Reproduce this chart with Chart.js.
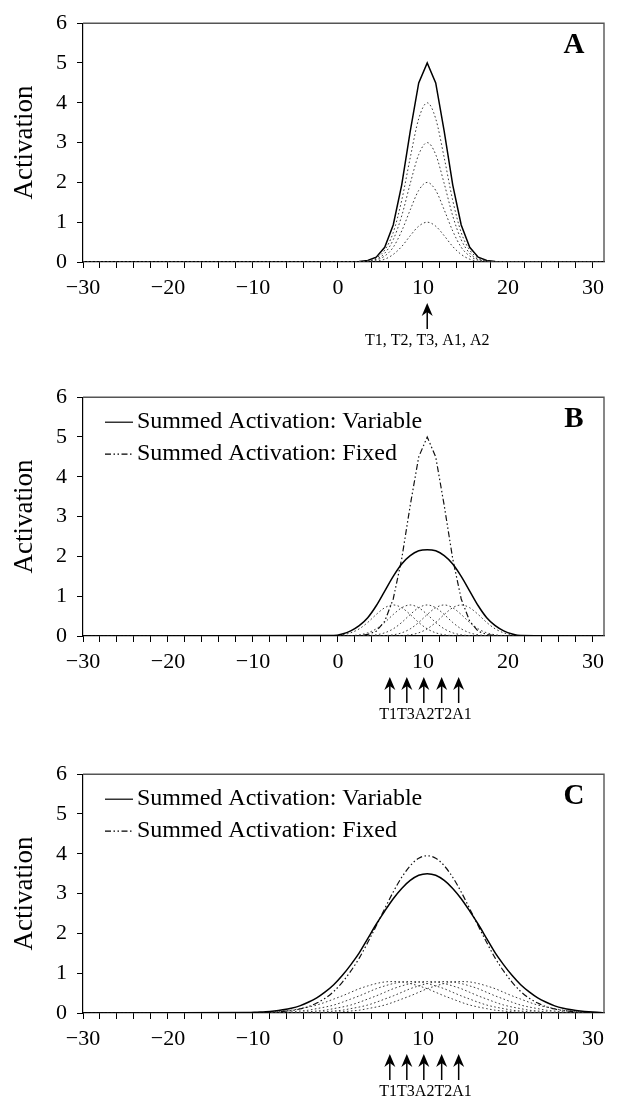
<!DOCTYPE html>
<html>
<head>
<meta charset="utf-8">
<script src="https://cdn.jsdelivr.net/npm/chart.js@4.4.0/dist/chart.umd.min.js"></script>
<style>
  body { margin: 0; background: #fff; }
  .panel { position: absolute; left: 0; width: 617px; }
  canvas { display: block; }
</style>
</head>
<body>
<div class="panel" style="top:0"><canvas id="chartA" width="617" height="374"></canvas></div>
<div class="panel" style="top:374px"><canvas id="chartB" width="617" height="377"></canvas></div>
<div class="panel" style="top:751px"><canvas id="chartC" width="617" height="347"></canvas></div>
<script>
const FONT = "'Liberation Serif', 'Times New Roman', serif";

// axis ticks
const xTickLabels = [-30, -20, -10, 0, 10, 20, 30];
const yTickLabels = [0, 1, 2, 3, 4, 5, 6];

// Panel A: five cumulative layers, all centred at 10.5
const xA = [-30, 2.5, 3.5, 4.5, 5.5, 6.5, 7.5, 8.5, 9.5, 10.5, 11.5, 12.5, 13.5, 14.5, 15.5, 16.5, 17.5, 18.5, 31];
const aSum    = [0, 0.01, 0.04, 0.12, 0.37, 0.93, 1.94, 3.28, 4.5, 5.0, 4.5, 3.28, 1.94, 0.93, 0.37, 0.12, 0.04, 0.01, 0];
const aLayer4 = [0, 0.01, 0.03, 0.10, 0.30, 0.74, 1.55, 2.62, 3.6, 4.0, 3.6, 2.62, 1.55, 0.74, 0.30, 0.10, 0.03, 0.01, 0];
const aLayer3 = [0, 0.01, 0.02, 0.07, 0.22, 0.56, 1.16, 1.97, 2.7, 3.0, 2.7, 1.97, 1.16, 0.56, 0.22, 0.07, 0.02, 0.01, 0];
const aLayer2 = [0, 0, 0.02, 0.05, 0.15, 0.37, 0.78, 1.31, 1.8, 2.0, 1.8, 1.31, 0.78, 0.37, 0.15, 0.05, 0.02, 0, 0];
const aLayer1 = [0, 0, 0.01, 0.02, 0.07, 0.19, 0.39, 0.66, 0.9, 1.0, 0.9, 0.66, 0.39, 0.19, 0.07, 0.02, 0.01, 0, 0];
const arrowsA = [10.5];

// Panel B
const xB = [-30, -0.5, 0.5, 1.5, 2.5, 3.5, 4.5, 5.5, 6.5, 7.5, 8.5, 9.5, 10.5, 11.5, 12.5, 13.5, 14.5, 15.5, 16.5, 17.5, 18.5, 19.5, 20.5, 21.5, 31];
const bVariable = [0, 0.01, 0.05, 0.13, 0.26, 0.46, 0.76, 1.13, 1.50, 1.81, 2.02, 2.14, 2.17, 2.14, 2.02, 1.81, 1.50, 1.13, 0.76, 0.46, 0.26, 0.13, 0.05, 0.01, 0];
const bFixed    = [0, 0, 0, 0, 0.01, 0.04, 0.12, 0.37, 0.93, 1.94, 3.28, 4.5, 5.0, 4.5, 3.28, 1.94, 0.93, 0.37, 0.12, 0.04, 0.01, 0, 0, 0, 0];
const bT1 = [0, 0.01, 0.03, 0.08, 0.18, 0.34, 0.54, 0.71, 0.78, 0.71, 0.54, 0.34, 0.18, 0.08, 0.03, 0.01, 0, 0, 0, 0, 0, 0, 0, 0, 0];
const bT3 = [0, 0, 0, 0.01, 0.03, 0.08, 0.18, 0.34, 0.54, 0.71, 0.78, 0.71, 0.54, 0.34, 0.18, 0.08, 0.03, 0.01, 0, 0, 0, 0, 0, 0, 0];
const bA2 = [0, 0, 0, 0, 0, 0.01, 0.03, 0.08, 0.18, 0.34, 0.54, 0.71, 0.78, 0.71, 0.54, 0.34, 0.18, 0.08, 0.03, 0.01, 0, 0, 0, 0, 0];
const bT2 = [0, 0, 0, 0, 0, 0, 0, 0.01, 0.03, 0.08, 0.18, 0.34, 0.54, 0.71, 0.78, 0.71, 0.54, 0.34, 0.18, 0.08, 0.03, 0.01, 0, 0, 0];
const bA1 = [0, 0, 0, 0, 0, 0, 0, 0, 0, 0.01, 0.03, 0.08, 0.18, 0.34, 0.54, 0.71, 0.78, 0.71, 0.54, 0.34, 0.18, 0.08, 0.03, 0.01, 0];
const arrowsBC = [6.1, 8.1, 10.1, 12.2, 14.2];

// Panel C
const xC = [-30, -10.5, -9.5, -8.5, -7.5, -6.5, -5.5, -4.5, -3.5, -2.5, -1.5, -0.5, 0.5, 1.5, 2.5, 3.5, 4.5, 5.5, 6.5, 7.5, 8.5, 9.5,
  10.5, 11.5, 12.5, 13.5, 14.5, 15.5, 16.5, 17.5, 18.5, 19.5, 20.5, 21.5, 22.5, 23.5, 24.5, 25.5, 26.5, 27.5, 28.5, 29.5, 30.5, 31];
const cVariable = [0, 0.01, 0.02, 0.03, 0.05, 0.08, 0.12, 0.18, 0.27, 0.38, 0.53, 0.71, 0.94, 1.21, 1.51, 1.87, 2.23, 2.56, 2.87, 3.13, 3.33, 3.46,
  3.50, 3.46, 3.33, 3.13, 2.87, 2.56, 2.23, 1.87, 1.51, 1.21, 0.94, 0.71, 0.53, 0.38, 0.27, 0.18, 0.12, 0.08, 0.05, 0.03, 0.02, 0.01];
const cFixed = [0, 0, 0.01, 0.01, 0.02, 0.04, 0.06, 0.10, 0.16, 0.25, 0.37, 0.54, 0.77, 1.05, 1.38, 1.77, 2.19, 2.62, 3.04, 3.41, 3.70, 3.89,
  3.95, 3.89, 3.70, 3.41, 3.04, 2.62, 2.19, 1.77, 1.38, 1.05, 0.77, 0.54, 0.37, 0.25, 0.16, 0.10, 0.06, 0.04, 0.02, 0.01, 0.01, 0];
const cT1 = [0, 0.01, 0.01, 0.02, 0.03, 0.05, 0.07, 0.11, 0.15, 0.20, 0.27, 0.35, 0.43, 0.52, 0.61, 0.68, 0.74, 0.78, 0.79,
  0.78, 0.74, 0.68, 0.61, 0.52, 0.43, 0.35, 0.27, 0.20, 0.15, 0.11, 0.07, 0.05, 0.03, 0.02, 0.01, 0.01, 0, 0, 0, 0, 0, 0, 0, 0];
const cT3 = [0, 0, 0, 0.01, 0.01, 0.02, 0.03, 0.05, 0.07, 0.11, 0.15, 0.20, 0.27, 0.35, 0.43, 0.52, 0.61, 0.68, 0.74, 0.78, 0.79,
  0.78, 0.74, 0.68, 0.61, 0.52, 0.43, 0.35, 0.27, 0.20, 0.15, 0.11, 0.07, 0.05, 0.03, 0.02, 0.01, 0.01, 0, 0, 0, 0, 0, 0];
const cA2 = [0, 0, 0, 0, 0, 0.01, 0.01, 0.02, 0.03, 0.05, 0.07, 0.11, 0.15, 0.20, 0.27, 0.35, 0.43, 0.52, 0.61, 0.68, 0.74, 0.78, 0.79,
  0.78, 0.74, 0.68, 0.61, 0.52, 0.43, 0.35, 0.27, 0.20, 0.15, 0.11, 0.07, 0.05, 0.03, 0.02, 0.01, 0.01, 0, 0, 0, 0];
const cT2 = [0, 0, 0, 0, 0, 0, 0, 0.01, 0.01, 0.02, 0.03, 0.05, 0.07, 0.11, 0.15, 0.20, 0.27, 0.35, 0.43, 0.52, 0.61, 0.68, 0.74, 0.78, 0.79,
  0.78, 0.74, 0.68, 0.61, 0.52, 0.43, 0.35, 0.27, 0.20, 0.15, 0.11, 0.07, 0.05, 0.03, 0.02, 0.01, 0.01, 0, 0];
const cA1 = [0, 0, 0, 0, 0, 0, 0, 0, 0, 0.01, 0.01, 0.02, 0.03, 0.05, 0.07, 0.11, 0.15, 0.20, 0.27, 0.35, 0.43, 0.52, 0.61, 0.68, 0.74, 0.78, 0.79,
  0.78, 0.74, 0.68, 0.61, 0.52, 0.43, 0.35, 0.27, 0.20, 0.15, 0.11, 0.07, 0.05, 0.03, 0.02, 0.01, 0.01];

const FIXED_DASH = [6, 2.5, 1.5, 2.5, 1.5, 2.5];

function points(xs, ys) {
  return xs.map((x, i) => ({ x: x, y: ys[i] }));
}

function dotted(xs, ys) {
  return { data: points(xs, ys), borderColor: '#3a3a3a', borderWidth: 1, borderDash: [1.6, 2.4], cubicInterpolationMode: 'monotone' };
}

// letter, legend, arrows and the top/right frame
const decor = {
  id: 'decor',
  afterDraw(chart, args, opts) {
    const ctx = chart.ctx;
    const a = chart.chartArea;
    const x = chart.scales.x;
    ctx.save();
    ctx.strokeStyle = '#555';
    ctx.lineWidth = 1.4;
    ctx.beginPath();
    ctx.moveTo(a.left, a.top);
    ctx.lineTo(a.right, a.top);
    ctx.lineTo(a.right, a.bottom);
    ctx.stroke();

    ctx.fillStyle = '#000';
    ctx.strokeStyle = '#000';
    ctx.font = 'bold 29px ' + FONT;
    ctx.textAlign = 'center';
    ctx.textBaseline = 'middle';
    ctx.fillText(opts.letter, a.right - 30, a.top + 22);

    chart.data.datasets.filter(d => d.label).forEach((d, i) => {
      const y = a.top + 25 + i * 32;
      ctx.setLineDash(d.borderDash || []);
      ctx.lineWidth = 1.2;
      ctx.beginPath();
      ctx.moveTo(a.left + 22, y);
      ctx.lineTo(a.left + 50, y);
      ctx.stroke();
      ctx.setLineDash([]);
      ctx.font = '24px ' + FONT;
      ctx.textAlign = 'left';
      ctx.fillText(d.label, a.left + 54, y);
    });

    const tip = a.bottom + 41;
    opts.arrows.forEach(v => {
      const px = x.getPixelForValue(v);
      ctx.lineWidth = 1.5;
      ctx.beginPath();
      ctx.moveTo(px, tip + 6);
      ctx.lineTo(px, tip + 26);
      ctx.stroke();
      ctx.beginPath();
      ctx.moveTo(px, tip);
      ctx.lineTo(px - 5.5, tip + 13);
      ctx.lineTo(px, tip + 9);
      ctx.lineTo(px + 5.5, tip + 13);
      ctx.closePath();
      ctx.fill();
    });
    ctx.font = '16px ' + FONT;
    ctx.textAlign = 'center';
    ctx.fillText(opts.arrowLabel, x.getPixelForValue(opts.labelAt), a.bottom + 79);
    ctx.restore();
  }
};

function makeChart(id, datasets, bottomPad, decorOpts) {
  new Chart(document.getElementById(id), {
    type: 'line',
    data: { datasets: datasets },
    plugins: [decor],
    options: {
      responsive: false,
      animation: false,
      layout: { padding: { left: 0, right: 13, top: 19, bottom: bottomPad } },
      elements: { point: { radius: 0 }, line: { tension: 0, fill: false } },
      plugins: { legend: { display: false }, tooltip: { enabled: false }, decor: decorOpts },
      scales: {
        x: {
          type: 'linear',
          min: -30,
          max: 31.3,
          afterFit: s => { s.height = 40; },
          grid: { drawOnChartArea: false, tickLength: 6, color: '#000' },
          border: { color: '#000', width: 1.2 },
          ticks: {
            stepSize: 2,
            includeBounds: false,
            autoSkip: false,
            maxRotation: 0,
            padding: 7,
            color: '#000',
            font: { family: FONT, size: 22 },
            callback: v => xTickLabels.includes(v) ? (v < 0 ? '\u2212' + Math.abs(v) : String(v)) : ''
          }
        },
        y: {
          min: 0,
          max: 6,
          afterFit: s => { s.width = 83; },
          grid: { drawOnChartArea: false, tickLength: 6, color: '#000' },
          border: { color: '#000', width: 1.2 },
          title: { display: true, text: 'Activation', color: '#000', font: { family: FONT, size: 27 }, padding: { top: 9, bottom: 0 } },
          ticks: {
            stepSize: 1,
            padding: 10,
            color: '#000',
            font: { family: FONT, size: 22 },
            callback: v => yTickLabels.includes(v) ? String(v) : ''
          }
        }
      }
    }
  });
}

makeChart('chartA', [
  dotted(xA, aLayer1),
  dotted(xA, aLayer2),
  dotted(xA, aLayer3),
  dotted(xA, aLayer4),
  { data: points(xA, aSum), borderColor: '#000', borderWidth: 1.5 }
], 72, { letter: 'A', arrows: arrowsA, arrowLabel: 'T1, T2, T3, A1, A2', labelAt: 10.5 });

makeChart('chartB', [
  { label: 'Summed Activation: Variable', data: points(xB, bVariable), borderColor: '#000', borderWidth: 1.5, cubicInterpolationMode: 'monotone' },
  { label: 'Summed Activation: Fixed', data: points(xB, bFixed), borderColor: '#111', borderWidth: 1.2, borderDash: FIXED_DASH },
  dotted(xB, bT1),
  dotted(xB, bT3),
  dotted(xB, bA2),
  dotted(xB, bT2),
  dotted(xB, bA1)
], 75, { letter: 'B', arrows: arrowsBC, arrowLabel: 'T1T3A2T2A1', labelAt: 10.3 });

makeChart('chartC', [
  { label: 'Summed Activation: Variable', data: points(xC, cVariable), borderColor: '#000', borderWidth: 1.5, cubicInterpolationMode: 'monotone' },
  { label: 'Summed Activation: Fixed', data: points(xC, cFixed), borderColor: '#111', borderWidth: 1.2, borderDash: FIXED_DASH, cubicInterpolationMode: 'monotone' },
  dotted(xC, cT1),
  dotted(xC, cT3),
  dotted(xC, cA2),
  dotted(xC, cT2),
  dotted(xC, cA1)
], 45, { letter: 'C', arrows: arrowsBC, arrowLabel: 'T1T3A2T2A1', labelAt: 10.3 });
</script>
</body>
</html>
